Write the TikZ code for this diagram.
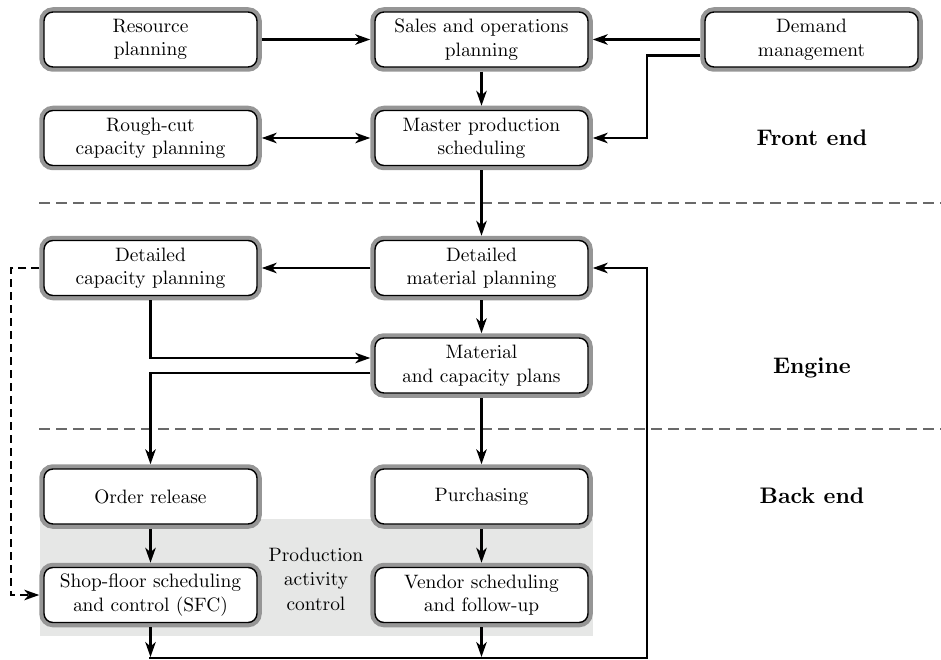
\documentclass[tikz,border=0pt]{standalone}
\usetikzlibrary{arrows.meta}
\definecolor{ringgray}{RGB}{150,150,150}
\definecolor{sepgray}{RGB}{105,105,105}
\definecolor{pacgray}{RGB}{230,231,230}
\font\boxfont=cmr10 at 19.4pt
\font\zonefont=cmbx10 at 22.5pt
\newcommand\boxtext{\boxfont\baselineskip=23.5pt\relax}
\newcommand\pactext{\boxfont\baselineskip=24.5pt\relax}
\begin{document}
\begin{tikzpicture}[x=1pt,y=-1pt,
  >={Stealth[length=15pt,width=10.5pt,inset=4.5pt]},
  box/.style={draw=black, line width=1.4pt, fill=white, rounded corners=9pt,
    preaction={draw=ringgray, line width=9.5pt},
    minimum width=213pt, minimum height=55pt, inner sep=0pt, outer sep=4.75pt,
    align=center, font=\boxtext},
  conn/.style={line width=2.3pt, ->},
  sep/.style={draw=sepgray, line width=1.6pt, dash pattern=on 11pt off 6pt},
  zone/.style={font=\zonefont},
  txt/.style={align=center, font=\pactext}
]
\useasboundingbox (0,0) rectangle (941,660);

% production activity control background
\fill[pacgray] (40,519) rectangle (593,636);

% separators
\draw[sep] (39,203) -- (941,203);
\draw[sep] (39,429) -- (941,429);

% boxes
\node[box] (rp)  at (150.5,39.5) {Resource\\planning};
\node[box] (sop) at (481.5,39.5) {Sales and operations\\planning};
\node[box] (dm)  at (811.5,39.5) {Demand\\management};
\node[box] (rc)  at (150.5,138) {Rough-cut\\capacity planning};
\node[box] (mps) at (481.5,138) {Master production\\scheduling};
\node[box] (dc)  at (150.5,268) {Detailed\\capacity planning};
\node[box] (dmp) at (481.5,268) {Detailed\\material planning};
\node[box] (mcp) at (481.5,365.5) {Material\\and capacity plans};
\node[box] (orl) at (150.5,496.5) {Order release};
\node[box] (pur) at (481.5,496.5) {Purchasing};
\node[box] (sfc) at (150.5,595) {Shop-floor scheduling\\and control (SFC)};
\node[box] (ven) at (481.5,595) {Vendor scheduling\\and follow-up};

% labels
\node[zone] (fe) at (812,137.5) {Front end};
\node[zone] (en) at (812,368) {Engine};
\node[zone] (be) at (812,496) {Back end};
\node[txt] (pac) at (316,579) {Production\\activity\\control};

% helper coordinates
\coordinate (rx) at (647,268);
\coordinate (dm2) at ([yshift=-16pt]dm.west);
\coordinate (mcpa) at ([yshift=7.5pt]mcp.west);
\coordinate (mcpb) at ([yshift=-7.5pt]mcp.west);
\coordinate (bot) at (0,657);
\coordinate (botl) at (0,658);
\coordinate (sfb) at ([xshift=-1.15pt]sfc.south);

% connectors
\draw[conn] (rp.east) -- (sop.west);
\draw[conn] (dm.west) -- (sop.east);
\draw[conn] (dm2) -- (dm2 -| rx) -- (rx |- mps.east) -- (mps.east);
\draw[conn] (sop.south) -- (mps.north);
\draw[conn, <->] (rc.east) -- (mps.west);
\draw[conn] (mps.south) -- (dmp.north);
\draw[conn] (dmp.west) -- (dc.east);
\draw[conn] (dmp.south) -- (mcp.north);
\draw[conn] (dc.south) -- (dc.south |- mcpa) -- (mcpa);
\draw[conn] (mcpb) -- (mcpb -| orl.north) -- (orl.north);
\draw[conn] (mcp.south) -- (pur.north);
\draw[conn] (orl.south) -- (sfc.north);
\draw[conn] (pur.south) -- (ven.north);
\draw[conn] (sfc.south) -- (sfc.south |- bot);
\draw[conn] (ven.south) -- (ven.south |- bot);
\draw[conn] (sfb |- botl) -- (rx |- botl) -- (rx) -- (dmp.east);
\draw[conn, dash pattern=on 8pt off 5pt] (dc.west) -- ++(-28,0) |- (sfc.west);
\end{tikzpicture}
\end{document}
